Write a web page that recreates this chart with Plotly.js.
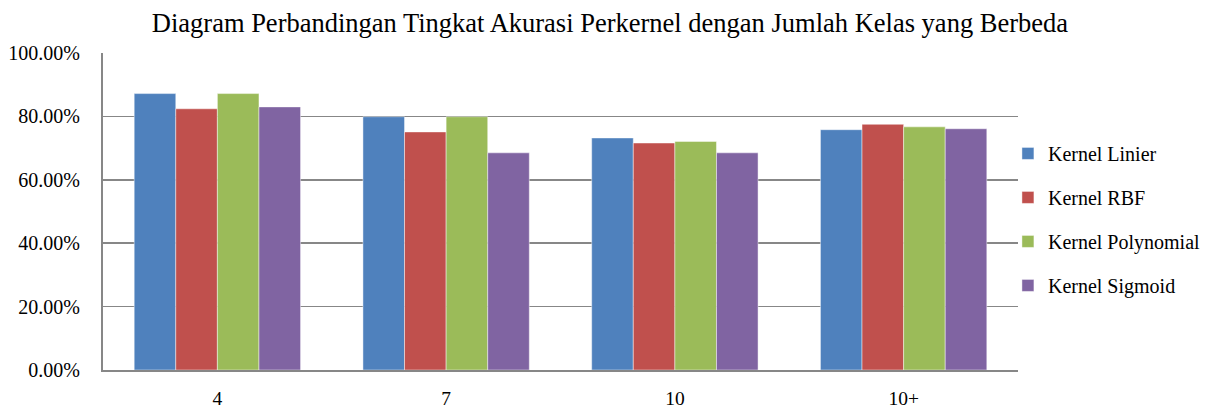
<!DOCTYPE html>
<html>
<head>
<meta charset="utf-8">
<script src="https://cdn.plot.ly/plotly-3.0.1.min.js"></script>
<style>html,body{margin:0;padding:0;background:#fff;}#chart{width:1215px;height:412px;}</style>
</head>
<body>
<div id="chart"></div>
<script>
const categories = ['4', '7', '10', '10+'];
const seriesNames = ['Kernel Linier', 'Kernel RBF', 'Kernel Polynomial', 'Kernel Sigmoid'];
const kernelLinier = [0.872, 0.799, 0.732, 0.758];
const kernelRBF = [0.824, 0.751, 0.716, 0.775];
const kernelPolynomial = [0.872, 0.799, 0.721, 0.767];
const kernelSigmoid = [0.830, 0.685, 0.685, 0.761];
const colors = ['#4F81BD', '#C0504D', '#9BBB59', '#8064A2'];
const yTicks = [0, 0.2, 0.4, 0.6, 0.8, 1.0];

const values = [kernelLinier, kernelRBF, kernelPolynomial, kernelSigmoid];
const font = 'Liberation Serif, Times New Roman, serif';

const traces = values.map((v, i) => ({
  type: 'bar',
  x: categories,
  y: v,
  name: seriesNames[i],
  legendgroup: 'g' + i,
  marker: {color: colors[i], line: {color: 'rgba(255,255,255,0.45)', width: 1}},
  hoverinfo: 'none'
}));

const layout = {
  width: 1215, height: 412,
  paper_bgcolor: '#fff', plot_bgcolor: '#fff',
  margin: {l: 103, r: 197, t: 53, b: 42, autoexpand: false},
  barmode: 'group',
  bargap: 0.2727,
  bargroupgap: 0,
  font: {family: font, color: '#000', size: 20},
  title: {text: 'Diagram Perbandingan Tingkat Akurasi Perkernel dengan Jumlah Kelas yang Berbeda',
    font: {family: font, size: 26.5, color: '#000'}, x: 0.502, xref: 'container', xanchor: 'center', y: 0.945, yanchor: 'middle'},
  xaxis: {
    type: 'category', showgrid: false, showline: true, linecolor: '#878787', linewidth: 2,
    ticks: '', tickfont: {family: font, size: 19.5}, zeroline: false, fixedrange: true, ticklabelstandoff: 10
  },
  yaxis: {
    range: [0, 1], tickvals: yTicks, tickformat: '.2%', showgrid: true, gridcolor: '#878787', gridwidth: 1.5,
    showline: true, linecolor: '#878787', linewidth: 2, ticks: '', ticklen: 0,
    tickfont: {family: font, size: 20}, zeroline: false, fixedrange: true, ticklabelstandoff: 17
  },
  legend: {
    x: 0.989, xanchor: 'left', y: 0.475, yanchor: 'middle',
    font: {family: font, size: 20}, tracegroupgap: 15, itemwidth: 30, bgcolor: 'rgba(0,0,0,0)'
  },
  showlegend: true
};

Plotly.newPlot('chart', traces, layout, {displayModeBar: false, staticPlot: true});
</script>
</body>
</html>
